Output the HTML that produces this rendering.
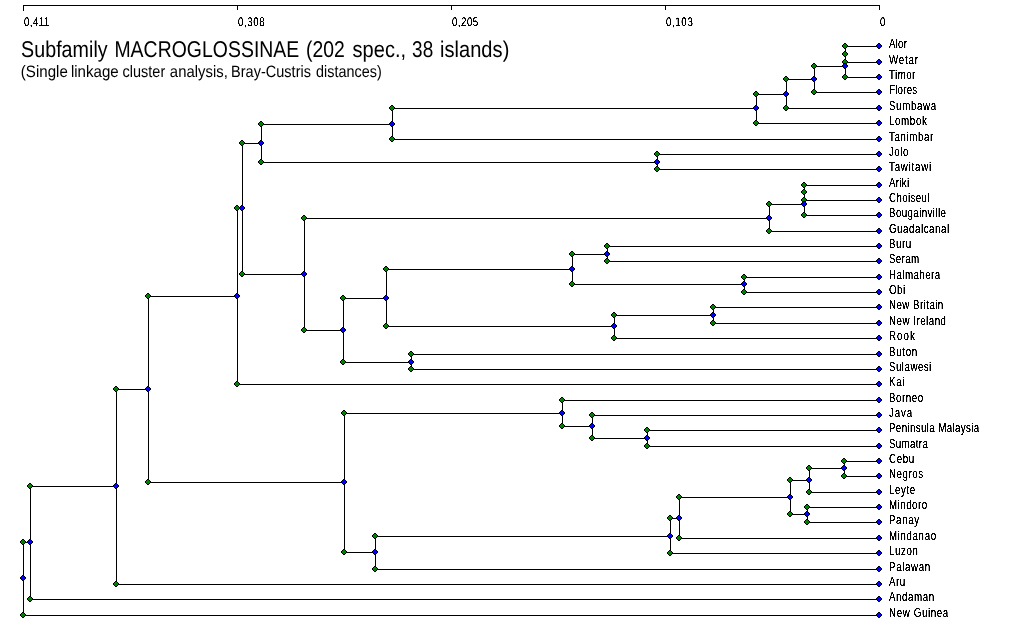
<!DOCTYPE html>
<html lang="en"><head><meta charset="utf-8"><title>Subfamily MACROGLOSSINAE dendrogram</title>
<style>html,body{margin:0;padding:0;background:#fff}body{width:1012px;height:625px;overflow:hidden}svg{display:block}text{font-family:"Liberation Sans",Arial,sans-serif;fill:#000}</style></head><body>
<svg width="1012" height="625" viewBox="0 0 1012 625">
<rect width="1012" height="625" fill="#fff"/>
<defs><g id="g"><path d="M-1-3h2v1h1v1h1v2h-1v1h-1v1h-2v-1h-1v-1h-1v-2h1v-1h1z" fill="#000"/><path d="M-1-2h2v1h1v2h-1v1h-2v-1h-1v-2h1z" fill="#008000"/></g><g id="b"><path d="M-1-3h2v1h1v1h1v2h-1v1h-1v1h-2v-1h-1v-1h-1v-2h1v-1h1z" fill="#000"/><path d="M-1-2h2v1h1v2h-1v1h-2v-1h-1v-2h1z" fill="#0000ff"/></g></defs>
<g shape-rendering="crispEdges" fill="#000">
<rect x="23" y="5" width="857" height="1"/>
<rect x="23" y="5" width="1" height="6"/>
<rect x="237" y="5" width="1" height="5"/>
<rect x="451" y="5" width="1" height="5"/>
<rect x="665" y="5" width="1" height="5"/>
<rect x="879" y="5" width="1" height="5"/>
<path d="M845 46h1v17h-1z M845 46h35v1h-35z M845 62h35v1h-35z M845 54h1v24h-1z M845 77h35v1h-35z M814 66h1v27h-1z M814 66h32v1h-32z M814 92h66v1h-66z M786 79h1v30h-1z M786 79h29v1h-29z M786 108h94v1h-94z M756 94h1v30h-1z M756 94h31v1h-31z M756 123h124v1h-124z M392 108h1v32h-1z M392 108h365v1h-365z M392 139h488v1h-488z M657 154h1v16h-1z M657 154h223v1h-223z M657 169h223v1h-223z M261 124h1v39h-1z M261 124h132v1h-132z M261 162h397v1h-397z M804 185h1v16h-1z M804 185h76v1h-76z M804 200h76v1h-76z M804 192h1v24h-1z M804 215h76v1h-76z M769 204h1v28h-1z M769 204h36v1h-36z M769 231h111v1h-111z M607 246h1v16h-1z M607 246h273v1h-273z M607 261h273v1h-273z M744 277h1v16h-1z M744 277h136v1h-136z M744 292h136v1h-136z M572 254h1v31h-1z M572 254h36v1h-36z M572 284h173v1h-173z M713 307h1v17h-1z M713 307h167v1h-167z M713 323h167v1h-167z M614 315h1v24h-1z M614 315h100v1h-100z M614 338h266v1h-266z M386 269h1v58h-1z M386 269h187v1h-187z M386 326h229v1h-229z M411 354h1v16h-1z M411 354h469v1h-469z M411 369h469v1h-469z M343 298h1v65h-1z M343 298h44v1h-44z M343 362h69v1h-69z M304 218h1v113h-1z M304 218h466v1h-466z M304 330h40v1h-40z M242 143h1v132h-1z M242 143h20v1h-20z M242 274h63v1h-63z M237 208h1v177h-1z M237 208h6v1h-6z M237 384h643v1h-643z M647 430h1v17h-1z M647 430h233v1h-233z M647 446h233v1h-233z M592 415h1v24h-1z M592 415h288v1h-288z M592 438h56v1h-56z M562 400h1v27h-1z M562 400h318v1h-318z M562 426h31v1h-31z M844 461h1v16h-1z M844 461h36v1h-36z M844 476h36v1h-36z M809 468h1v25h-1z M809 468h36v1h-36z M809 492h71v1h-71z M807 507h1v16h-1z M807 507h73v1h-73z M807 522h73v1h-73z M790 480h1v35h-1z M790 480h20v1h-20z M790 514h18v1h-18z M679 497h1v42h-1z M679 497h112v1h-112z M679 538h201v1h-201z M670 518h1v36h-1z M670 518h10v1h-10z M670 553h210v1h-210z M375 536h1v34h-1z M375 536h296v1h-296z M375 569h505v1h-505z M344 413h1v140h-1z M344 413h219v1h-219z M344 552h32v1h-32z M148 296h1v187h-1z M148 296h90v1h-90z M148 482h197v1h-197z M116 389h1v196h-1z M116 389h33v1h-33z M116 584h764v1h-764z M30 486h1v114h-1z M30 486h87v1h-87z M30 599h850v1h-850z M23 542h1v74h-1z M23 542h8v1h-8z M23 615h857v1h-857z"/>
<use href="#g" x="845" y="46"/>
<use href="#g" x="845" y="62"/>
<use href="#b" x="845" y="54"/>
<use href="#g" x="845" y="54"/>
<use href="#g" x="845" y="77"/>
<use href="#b" x="845" y="66"/>
<use href="#g" x="814" y="66"/>
<use href="#g" x="814" y="92"/>
<use href="#b" x="814" y="79"/>
<use href="#g" x="786" y="79"/>
<use href="#g" x="786" y="108"/>
<use href="#b" x="786" y="94"/>
<use href="#g" x="756" y="94"/>
<use href="#g" x="756" y="123"/>
<use href="#b" x="756" y="108"/>
<use href="#g" x="392" y="108"/>
<use href="#g" x="392" y="139"/>
<use href="#b" x="392" y="124"/>
<use href="#g" x="657" y="154"/>
<use href="#g" x="657" y="169"/>
<use href="#b" x="657" y="162"/>
<use href="#g" x="261" y="124"/>
<use href="#g" x="261" y="162"/>
<use href="#b" x="261" y="143"/>
<use href="#g" x="804" y="185"/>
<use href="#g" x="804" y="200"/>
<use href="#b" x="804" y="192"/>
<use href="#g" x="804" y="192"/>
<use href="#g" x="804" y="215"/>
<use href="#b" x="804" y="204"/>
<use href="#g" x="769" y="204"/>
<use href="#g" x="769" y="231"/>
<use href="#b" x="769" y="218"/>
<use href="#g" x="607" y="246"/>
<use href="#g" x="607" y="261"/>
<use href="#b" x="607" y="254"/>
<use href="#g" x="744" y="277"/>
<use href="#g" x="744" y="292"/>
<use href="#b" x="744" y="284"/>
<use href="#g" x="572" y="254"/>
<use href="#g" x="572" y="284"/>
<use href="#b" x="572" y="269"/>
<use href="#g" x="713" y="307"/>
<use href="#g" x="713" y="323"/>
<use href="#b" x="713" y="315"/>
<use href="#g" x="614" y="315"/>
<use href="#g" x="614" y="338"/>
<use href="#b" x="614" y="326"/>
<use href="#g" x="386" y="269"/>
<use href="#g" x="386" y="326"/>
<use href="#b" x="386" y="298"/>
<use href="#g" x="411" y="354"/>
<use href="#g" x="411" y="369"/>
<use href="#b" x="411" y="362"/>
<use href="#g" x="343" y="298"/>
<use href="#g" x="343" y="362"/>
<use href="#b" x="343" y="330"/>
<use href="#g" x="304" y="218"/>
<use href="#g" x="304" y="330"/>
<use href="#b" x="304" y="274"/>
<use href="#g" x="242" y="143"/>
<use href="#g" x="242" y="274"/>
<use href="#b" x="242" y="208"/>
<use href="#g" x="237" y="208"/>
<use href="#g" x="237" y="384"/>
<use href="#b" x="237" y="296"/>
<use href="#g" x="647" y="430"/>
<use href="#g" x="647" y="446"/>
<use href="#b" x="647" y="438"/>
<use href="#g" x="592" y="415"/>
<use href="#g" x="592" y="438"/>
<use href="#b" x="592" y="426"/>
<use href="#g" x="562" y="400"/>
<use href="#g" x="562" y="426"/>
<use href="#b" x="562" y="413"/>
<use href="#g" x="844" y="461"/>
<use href="#g" x="844" y="476"/>
<use href="#b" x="844" y="468"/>
<use href="#g" x="809" y="468"/>
<use href="#g" x="809" y="492"/>
<use href="#b" x="809" y="480"/>
<use href="#g" x="807" y="507"/>
<use href="#g" x="807" y="522"/>
<use href="#b" x="807" y="514"/>
<use href="#g" x="790" y="480"/>
<use href="#g" x="790" y="514"/>
<use href="#b" x="790" y="497"/>
<use href="#g" x="679" y="497"/>
<use href="#g" x="679" y="538"/>
<use href="#b" x="679" y="518"/>
<use href="#g" x="670" y="518"/>
<use href="#g" x="670" y="553"/>
<use href="#b" x="670" y="536"/>
<use href="#g" x="375" y="536"/>
<use href="#g" x="375" y="569"/>
<use href="#b" x="375" y="552"/>
<use href="#g" x="344" y="413"/>
<use href="#g" x="344" y="552"/>
<use href="#b" x="344" y="482"/>
<use href="#g" x="148" y="296"/>
<use href="#g" x="148" y="482"/>
<use href="#b" x="148" y="389"/>
<use href="#g" x="116" y="389"/>
<use href="#g" x="116" y="584"/>
<use href="#b" x="116" y="486"/>
<use href="#g" x="30" y="486"/>
<use href="#g" x="30" y="599"/>
<use href="#b" x="30" y="542"/>
<use href="#g" x="23" y="542"/>
<use href="#g" x="23" y="615"/>
<use href="#b" x="23" y="578"/>
<use href="#b" x="879" y="46"/>
<use href="#b" x="879" y="62"/>
<use href="#b" x="879" y="77"/>
<use href="#b" x="879" y="92"/>
<use href="#b" x="879" y="108"/>
<use href="#b" x="879" y="123"/>
<use href="#b" x="879" y="139"/>
<use href="#b" x="879" y="154"/>
<use href="#b" x="879" y="169"/>
<use href="#b" x="879" y="185"/>
<use href="#b" x="879" y="200"/>
<use href="#b" x="879" y="215"/>
<use href="#b" x="879" y="231"/>
<use href="#b" x="879" y="246"/>
<use href="#b" x="879" y="261"/>
<use href="#b" x="879" y="277"/>
<use href="#b" x="879" y="292"/>
<use href="#b" x="879" y="307"/>
<use href="#b" x="879" y="323"/>
<use href="#b" x="879" y="338"/>
<use href="#b" x="879" y="354"/>
<use href="#b" x="879" y="369"/>
<use href="#b" x="879" y="384"/>
<use href="#b" x="879" y="400"/>
<use href="#b" x="879" y="415"/>
<use href="#b" x="879" y="430"/>
<use href="#b" x="879" y="446"/>
<use href="#b" x="879" y="461"/>
<use href="#b" x="879" y="476"/>
<use href="#b" x="879" y="492"/>
<use href="#b" x="879" y="507"/>
<use href="#b" x="879" y="522"/>
<use href="#b" x="879" y="538"/>
<use href="#b" x="879" y="553"/>
<use href="#b" x="879" y="569"/>
<use href="#b" x="879" y="584"/>
<use href="#b" x="879" y="599"/>
<use href="#b" x="879" y="615"/>
</g>
<filter id="th" x="0" y="0" width="100%" height="100%" color-interpolation-filters="sRGB"><feComponentTransfer><feFuncA type="linear" slope="4" intercept="-1"/></feComponentTransfer></filter>
<filter id="nf" x="0" y="0" width="100%" height="100%"><feOffset dx="0" dy="0"/></filter>
<g filter="url(#nf)">
<text transform="skewX(0.3)" y="56.8" font-size="22.8"><tspan x="20.77" textLength="86.57" lengthAdjust="spacingAndGlyphs">Subfamily</tspan> <tspan x="114.11" textLength="184.91" lengthAdjust="spacingAndGlyphs">MACROGLOSSINAE</tspan> <tspan x="305.70" textLength="38.89" lengthAdjust="spacingAndGlyphs">(202</tspan> <tspan x="352.26" textLength="53.65" lengthAdjust="spacingAndGlyphs">spec.,</tspan> <tspan x="411.78" textLength="21.15" lengthAdjust="spacingAndGlyphs">38</tspan> <tspan x="439.67" textLength="69.37" lengthAdjust="spacingAndGlyphs">islands)</tspan></text>
<text transform="skewX(0.3)" y="77.5" font-size="16.5"><tspan x="20.41" textLength="47.05" lengthAdjust="spacingAndGlyphs">(Single</tspan> <tspan x="70.48" textLength="47.88" lengthAdjust="spacingAndGlyphs">linkage</tspan> <tspan x="122.08" textLength="42.75" lengthAdjust="spacingAndGlyphs">cluster</tspan> <tspan x="169.47" textLength="57.96" lengthAdjust="spacingAndGlyphs">analysis,</tspan> <tspan x="230.60" textLength="80.01" lengthAdjust="spacingAndGlyphs">Bray-Custris</tspan> <tspan x="315.69" textLength="65.80" lengthAdjust="spacingAndGlyphs">distances)</tspan></text>
</g>
<g filter="url(#th)" font-size="12.5">
<text transform="translate(24 26) skewX(0.3) scale(0.78 1)" textLength="32.44" lengthAdjust="spacing">0,411</text>
<text transform="translate(238 26) skewX(0.3) scale(0.78 1)" textLength="34.10" lengthAdjust="spacing">0,308</text>
<text transform="translate(452 26) skewX(0.3) scale(0.78 1)" textLength="33.59" lengthAdjust="spacing">0,205</text>
<text transform="translate(666 26) skewX(0.3) scale(0.78 1)" textLength="34.36" lengthAdjust="spacing">0,103</text>
<text transform="translate(880 26) skewX(0.3) scale(0.78 1)" textLength="6.41" lengthAdjust="spacing">0</text>
<text transform="translate(889 48) scale(0.78 1)" textLength="23.08" lengthAdjust="spacing">Alor</text>
<text transform="translate(889 64) scale(0.78 1)" textLength="37.18" lengthAdjust="spacing">Wetar</text>
<text transform="translate(889 79) scale(0.78 1)" textLength="33.72" lengthAdjust="spacing">Timor</text>
<text transform="translate(889 94) scale(0.78 1)" textLength="36.15" lengthAdjust="spacing">Flores</text>
<text transform="translate(889 110) scale(0.78 1)" textLength="60.38" lengthAdjust="spacing">Sumbawa</text>
<text transform="translate(889 125) scale(0.78 1)" textLength="48.46" lengthAdjust="spacing">Lombok</text>
<text transform="translate(889 141) scale(0.78 1)" textLength="56.67" lengthAdjust="spacing">Tanimbar</text>
<text transform="translate(889 156) scale(0.78 1)" textLength="24.87" lengthAdjust="spacing">Jolo</text>
<text transform="translate(889 171) scale(0.78 1)" textLength="54.23" lengthAdjust="spacing">Tawitawi</text>
<text transform="translate(889 187) scale(0.78 1)" textLength="25.90" lengthAdjust="spacing">Ariki</text>
<text transform="translate(889 202) scale(0.78 1)" textLength="51.92" lengthAdjust="spacing">Choiseul</text>
<text transform="translate(889 217) scale(0.78 1)" textLength="73.08" lengthAdjust="spacing">Bougainville</text>
<text transform="translate(889 233) scale(0.78 1)" textLength="77.18" lengthAdjust="spacing">Guadalcanal</text>
<text transform="translate(889 248) scale(0.78 1)" textLength="28.59" lengthAdjust="spacing">Buru</text>
<text transform="translate(889 263) scale(0.78 1)" textLength="38.59" lengthAdjust="spacing">Seram</text>
<text transform="translate(889 279) scale(0.78 1)" textLength="65.51" lengthAdjust="spacing">Halmahera</text>
<text transform="translate(889 294) scale(0.78 1)" textLength="20.77" lengthAdjust="spacing">Obi</text>
<text transform="translate(889 309) scale(0.78 1)" textLength="69.62" lengthAdjust="spacing">New Britain</text>
<text transform="translate(889 325) scale(0.78 1)" textLength="73.08" lengthAdjust="spacing">New Ireland</text>
<text transform="translate(889 340) scale(0.78 1)" textLength="33.08" lengthAdjust="spacing">Rook</text>
<text transform="translate(889 356) scale(0.78 1)" textLength="36.15" lengthAdjust="spacing">Buton</text>
<text transform="translate(889 371) scale(0.78 1)" textLength="54.23" lengthAdjust="spacing">Sulawesi</text>
<text transform="translate(889 386) scale(0.78 1)" textLength="19.74" lengthAdjust="spacing">Kai</text>
<text transform="translate(889 402) scale(0.78 1)" textLength="43.72" lengthAdjust="spacing">Borneo</text>
<text transform="translate(889 417) scale(0.78 1)" textLength="29.62" lengthAdjust="spacing">Java</text>
<text transform="translate(889 432) scale(0.78 1)" textLength="115.77" lengthAdjust="spacing">Peninsula Malaysia</text>
<text transform="translate(889 448) scale(0.78 1)" textLength="49.87" lengthAdjust="spacing">Sumatra</text>
<text transform="translate(889 463) scale(0.78 1)" textLength="32.44" lengthAdjust="spacing">Cebu</text>
<text transform="translate(889 478) scale(0.78 1)" textLength="43.72" lengthAdjust="spacing">Negros</text>
<text transform="translate(889 494) scale(0.78 1)" textLength="33.46" lengthAdjust="spacing">Leyte</text>
<text transform="translate(889 509) scale(0.78 1)" textLength="48.85" lengthAdjust="spacing">Mindoro</text>
<text transform="translate(889 524) scale(0.78 1)" textLength="38.59" lengthAdjust="spacing">Panay</text>
<text transform="translate(889 540) scale(0.78 1)" textLength="60.38" lengthAdjust="spacing">Mindanao</text>
<text transform="translate(889 555) scale(0.78 1)" textLength="37.18" lengthAdjust="spacing">Luzon</text>
<text transform="translate(889 571) scale(0.78 1)" textLength="52.95" lengthAdjust="spacing">Palawan</text>
<text transform="translate(889 586) scale(0.78 1)" textLength="20.77" lengthAdjust="spacing">Aru</text>
<text transform="translate(889 601) scale(0.78 1)" textLength="57.95" lengthAdjust="spacing">Andaman</text>
<text transform="translate(889 617) scale(0.78 1)" textLength="76.03" lengthAdjust="spacing">New Guinea</text>
</g>
</svg></body></html>
